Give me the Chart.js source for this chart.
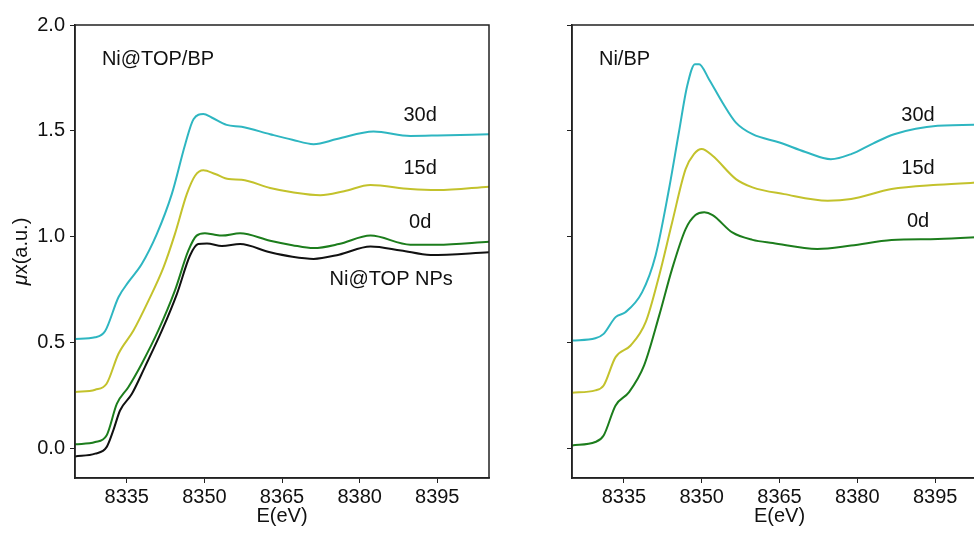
<!DOCTYPE html>
<html>
<head>
<meta charset="utf-8">
<script src="https://cdn.jsdelivr.net/npm/chart.js@4.4.0/dist/chart.umd.min.js"></script>
<style>
  html, body { margin: 0; padding: 0; background: #fff; }
  body { width: 974px; height: 534px; overflow: hidden; position: relative; }
  #leftChart { position: absolute; left: 0; top: 0; }
  #rightChart { position: absolute; left: 530px; top: 0; }
</style>
</head>
<body>
<canvas id="leftChart" width="530" height="534"></canvas>
<canvas id="rightChart" width="500" height="534"></canvas>
<script>
// XANES spectra

// axis ticks
const xTicks = [8335, 8350, 8365, 8380, 8395];
const yTicks = [0.0, 0.5, 1.0, 1.5, 2.0];

// Ni@TOP/BP panel
const topE30 = [8325, 8328.9, 8330.8, 8333.4, 8335.3, 8337.9, 8340.8, 8343.7, 8346.3, 8347.9, 8349.8, 8351.4, 8354.3, 8357.2, 8362.7, 8367, 8371.1, 8375.6, 8382.7, 8389.8, 8395, 8405];
const topMu30 = [0.517, 0.525, 0.553, 0.714, 0.785, 0.871, 1.012, 1.201, 1.437, 1.555, 1.579, 1.563, 1.528, 1.519, 1.484, 1.458, 1.437, 1.461, 1.497, 1.476, 1.478, 1.484];

const topE15 = [8325, 8328.9, 8331.1, 8333.4, 8336.3, 8339.2, 8342.1, 8344.3, 8346.6, 8348.2, 8349.8, 8352.1, 8354.7, 8357.2, 8362.7, 8367, 8372.4, 8377, 8382.1, 8389.8, 8395, 8405];
const topMu15 = [0.266, 0.277, 0.305, 0.447, 0.557, 0.698, 0.855, 1.012, 1.201, 1.288, 1.314, 1.296, 1.272, 1.269, 1.23, 1.21, 1.196, 1.215, 1.244, 1.225, 1.22, 1.236];

const topE0 = [8325, 8328.9, 8331.1, 8333.1, 8335.3, 8337.9, 8341.1, 8344.3, 8346.9, 8348.5, 8350.1, 8351.8, 8353.4, 8356.9, 8362.7, 8367, 8371.1, 8376, 8382.1, 8389.8, 8395, 8405];
const topMu0 = [0.019, 0.030, 0.061, 0.211, 0.289, 0.40, 0.557, 0.745, 0.934, 1.005, 1.016, 1.010, 1.005, 1.016, 0.981, 0.96, 0.946, 0.965, 1.005, 0.962, 0.962, 0.976];

const npE = [8325, 8328.9, 8331.1, 8332.4, 8333.7, 8336, 8338.5, 8341.8, 8344.7, 8347.2, 8348.8, 8350.5, 8353.4, 8356.9, 8362.7, 8367, 8371.1, 8376, 8382.1, 8388, 8393.7, 8405];
const npMu = [-0.038, -0.025, 0.006, 0.085, 0.179, 0.258, 0.384, 0.557, 0.73, 0.91, 0.965, 0.968, 0.956, 0.965, 0.926, 0.905, 0.895, 0.915, 0.954, 0.935, 0.914, 0.926];

// Ni/BP panel
const bpE30 = [8325, 8329.5, 8331.1, 8333.4, 8335.3, 8338.5, 8341.1, 8343.7, 8345.6, 8347.2, 8348.7, 8349.5, 8351.4, 8354, 8356.6, 8359.8, 8365, 8370, 8374.9, 8378.8, 8383, 8387.1, 8395.5, 8405];
const bpMu30 = [0.509, 0.520, 0.541, 0.62, 0.643, 0.737, 0.91, 1.225, 1.492, 1.712, 1.815, 1.815, 1.744, 1.634, 1.539, 1.484, 1.445, 1.40, 1.366, 1.39, 1.44, 1.484, 1.524, 1.53];

const bpE15 = [8325, 8329.5, 8331.1, 8333.4, 8336.3, 8339.2, 8341.8, 8344.3, 8346.9, 8348.5, 8350, 8352.1, 8356.6, 8359.8, 8365.9, 8374.3, 8378.8, 8386.6, 8395.5, 8405];
const bpMu15 = [0.263, 0.274, 0.297, 0.431, 0.486, 0.596, 0.816, 1.067, 1.319, 1.39, 1.414, 1.382, 1.272, 1.233, 1.201, 1.17, 1.178, 1.225, 1.245, 1.258];

const bpE0 = [8325, 8329.5, 8331.1, 8333.4, 8336, 8338.9, 8341.8, 8344.3, 8346.9, 8348.8, 8350.5, 8352.1, 8355.9, 8359.8, 8363.7, 8372.3, 8378.8, 8386.6, 8395.5, 8405];
const bpMu0 = [0.014, 0.03, 0.061, 0.203, 0.266, 0.392, 0.627, 0.848, 1.036, 1.102, 1.115, 1.102, 1.02, 0.985, 0.97, 0.942, 0.958, 0.984, 0.989, 1.0];

// text labels placed in data units
const topLabels = [
    { text: 'Ni@TOP/BP', x: 8330.2, y: 1.835, align: 'left' },
    { text: '30d', x: 8391.7, y: 1.571, align: 'center' },
    { text: '15d', x: 8391.7, y: 1.32, align: 'center' },
    { text: '0d', x: 8391.7, y: 1.068, align: 'center' },
    { text: 'Ni@TOP NPs', x: 8386.1, y: 0.8, align: 'center' }
];
const bpLabels = [
    { text: 'Ni/BP', x: 8330.2, y: 1.835, align: 'left' },
    { text: '30d', x: 8391.7, y: 1.571, align: 'center' },
    { text: '15d', x: 8391.7, y: 1.32, align: 'center' },
    { text: '0d', x: 8391.7, y: 1.07, align: 'center' }
];

const cyan = '#2eb6c1';
const olive = '#c3c22c';
const green = '#1c7d1c';
const black = '#111111';
const fontFamily = '"Liberation Sans", Arial, sans-serif';

function pairs(xs, ys) {
    return xs.map((x, i) => ({ x: x, y: ys[i] }));
}

function series(xs, ys, color) {
    return {
        data: pairs(xs, ys),
        borderColor: color,
        borderWidth: 2,
        pointRadius: 0,
        fill: false,
        cubicInterpolationMode: 'monotone'
    };
}

// frame, text labels and the y title (italic mu)
const framePlugin = {
    id: 'frame',
    afterDraw(chart, args, opts) {
        const ctx = chart.ctx;
        const a = chart.chartArea;
        ctx.save();
        ctx.strokeStyle = '#222';
        ctx.lineWidth = 1.5;
        ctx.strokeRect(a.left, a.top, a.right - a.left, a.bottom - a.top);
        ctx.fillStyle = '#111';
        ctx.font = '20px ' + fontFamily;
        ctx.textBaseline = 'middle';
        (opts.labels || []).forEach(l => {
            ctx.textAlign = l.align;
            ctx.fillText(l.text, chart.scales.x.getPixelForValue(l.x), chart.scales.y.getPixelForValue(l.y));
        });

        if (opts.yTitle) {
            const mu = 'μ';
            const rest = 'x(a.u.)';
            ctx.font = 'italic 20px ' + fontFamily;
            const w1 = ctx.measureText(mu).width;
            ctx.font = '20px ' + fontFamily;
            const w2 = ctx.measureText(rest).width;
            ctx.translate(21, (a.top + a.bottom) / 2);
            ctx.rotate(-Math.PI / 2);
            ctx.textAlign = 'left';
            const start = -(w1 + w2) / 2;
            ctx.font = 'italic 20px ' + fontFamily;
            ctx.fillText(mu, start, 0);
            ctx.font = '20px ' + fontFamily;
            ctx.fillText(rest, start + w1, 0);
        }
        ctx.restore();
    }
};

function makeChart(id, datasets, labels, yAxisWidth, padRight, showYLabels) {
    return new Chart(document.getElementById(id), {
        type: 'line',
        data: { datasets: datasets },
        plugins: [framePlugin],
        options: {
            responsive: false,
            animation: false,
            layout: { padding: { left: 0, top: 25, right: padRight, bottom: 0 } },
            plugins: {
                legend: { display: false },
                tooltip: { enabled: false },
                frame: { labels: labels, yTitle: showYLabels }
            },
            scales: {
                x: {
                    type: 'linear',
                    min: 8325,
                    max: 8405,
                    afterBuildTicks: s => { s.ticks = xTicks.map(v => ({ value: v })); },
                    afterFit: s => { s.height = 56; },
                    grid: { drawOnChartArea: false, drawTicks: true, tickLength: 5, color: '#222' },
                    border: { display: true, color: '#222', width: 1.5 },
                    ticks: {
                        color: '#111',
                        padding: 2,
                        maxRotation: 0,
                        font: { size: 20, family: fontFamily },
                        callback: v => String(v)
                    },
                    title: { display: true, text: 'E(eV)', color: '#111', padding: { top: 0, bottom: 6 }, font: { size: 20, family: fontFamily } }
                },
                y: {
                    min: -0.14,
                    max: 2.0,
                    afterBuildTicks: s => { s.ticks = yTicks.map(v => ({ value: v })); },
                    afterFit: s => { s.width = yAxisWidth; },
                    grid: { drawOnChartArea: false, drawTicks: true, tickLength: 5, color: '#222' },
                    border: { display: true, color: '#222', width: 1.5 },
                    ticks: {
                        display: showYLabels,
                        color: '#111',
                        padding: 5,
                        font: { size: 20, family: fontFamily },
                        callback: v => v.toFixed(1)
                    },
                    title: { display: false }
                }
            }
        }
    });
}

makeChart('leftChart', [
    series(npE, npMu, black),
    series(topE0, topMu0, green),
    series(topE15, topMu15, olive),
    series(topE30, topMu30, cyan)
], topLabels, 75, 41, true);

makeChart('rightChart', [
    series(bpE0, bpMu0, green),
    series(bpE15, bpMu15, olive),
    series(bpE30, bpMu30, cyan)
], bpLabels, 42, 43, false);
</script>
</body>
</html>
